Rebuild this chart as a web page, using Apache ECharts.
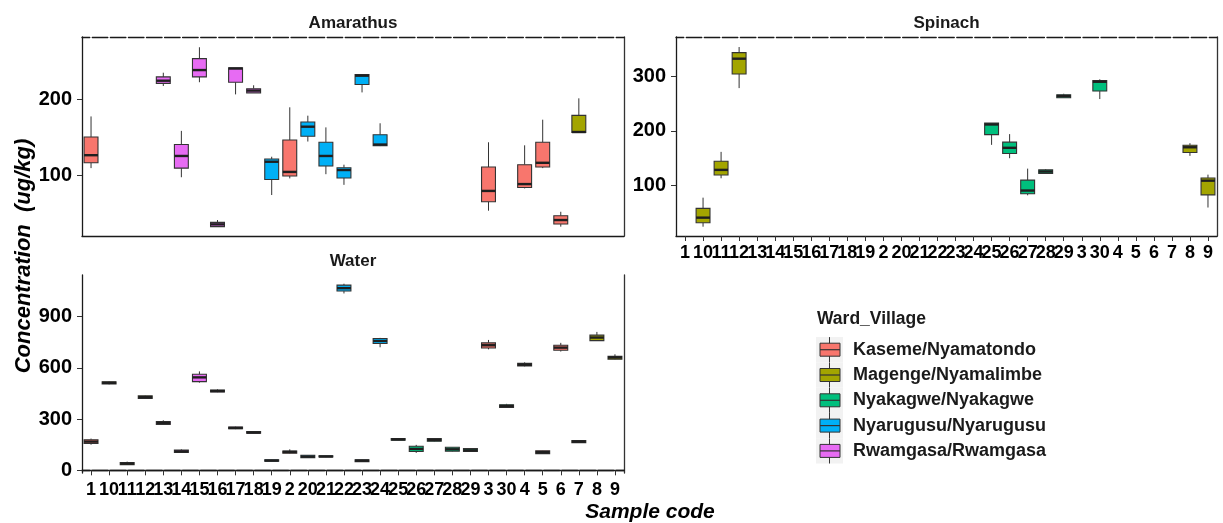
<!DOCTYPE html>
<html>
<head>
<meta charset="utf-8">
<script src="https://cdn.jsdelivr.net/npm/echarts@6/dist/echarts.min.js"></script>
<style>
  html, body { margin: 0; padding: 0; background: #fff; }
  #main { width: 1223px; height: 523px; }
</style>
</head>
<body>
<div id="main"></div>
<script>
// sample codes, sorted as text like the original factor levels
const sampleCodes = ['1','10','11','12','13','14','15','16','17','18','19','2','20','21','22',
  '23','24','25','26','27','28','29','3','30','4','5','6','7','8','9'];

const villages = ['Kaseme/Nyamatondo', 'Magenge/Nyamalimbe', 'Nyakagwe/Nyakagwe',
  'Nyarugusu/Nyarugusu', 'Rwamgasa/Rwamgasa'];
const villageSamples = [
  ['1','2','3','4','5','6'],
  ['7','8','9','10','11','12'],
  ['25','26','27','28','29','30'],
  ['19','20','21','22','23','24'],
  ['13','14','15','16','17','18']
];
const villageColors = ['#F8766D', '#A3A500', '#00BF7D', '#00B0F6', '#E76BF3'];

// [code, min, q1, median, q3, max]  (ug/kg)
const amarathus = [
  ['1',110,117,127,151,178], ['13',218,221.5,225,230,235.5], ['14',98,110,126,141,159],
  ['15',223,230,239,254,269], ['16',33,33,36,38.6,41.7], ['17',207,223,241,242,242],
  ['18',209,209,212,214.5,219], ['19',74.6,95,118.4,122,125], ['2',96.5,99.6,105,147,190],
  ['20',145,152,164.5,170.6,179], ['21',102,112.7,126,144,163.6], ['22',88,97,107.5,110.5,114.5],
  ['23',209.6,220,231.6,233,233], ['24',139,139.5,141,154,169], ['3',54,65.8,80,111.4,144],
  ['4',83.3,84.6,89,114.5,140], ['5',110,111.4,117,144,173.7], ['6',33,36.4,41.7,47.4,52.6],
  ['7',157,157,157.5,179.4,201.8]
];
const spinach = [
  ['10',25,32.3,41.5,58.5,78], ['11',113.4,119.5,128.7,144.5,161.6], ['12',278,303.7,331.7,342.7,353],
  ['25',174.4,193,211.6,214,214], ['26',150,158.5,169,179.3,194], ['27',82.3,85,91,110,131],
  ['28',122,122,125.6,128.7,130], ['29',260.4,260.4,263.4,265.9,267.7], ['30',258,272.6,289.6,292,294],
  ['8',154.3,160.4,170,173.8,177.4], ['9',60,83,109,114,120]
];
const water = [
  ['1',150,157,168,179,186], ['10',503,506,512,518,521], ['11',33,33,39,45,51],
  ['12',419,421,428,436,438], ['13',266,268,278,286,293], ['14',103,104,111,119,123],
  ['15',513,519,544,562,579], ['16',457,458,464,470,474], ['17',241,243,248,254,256],
  ['18',216,217,221,227,228], ['19',52,53,57,62,63], ['2',98,100,108,113,123],
  ['20',73,74,80,88,89], ['21',77,78,81,85,86], ['22',1035,1049,1066,1084,1092],
  ['23',50,51,57,61,62], ['24',720,742,757,771,775], ['25',175,176,181,186,187],
  ['26',102,110,125,141,149], ['27',168,170,178,186,188], ['28',110,112,123,135,136],
  ['29',108,110,117,127,128], ['3',708,716,732,746,763], ['30',366,368,376,384,389],
  ['4',608,611,618,626,632], ['5',96,98,106,115,116], ['6',695,703,718,732,746],
  ['7',161,162,168,174,175], ['8',759,759,777,791,810], ['9',648,650,660,667,679]
];

const amarathusTicks = [100, 200];
const spinachTicks = [100, 200, 300];
const waterTicks = [0, 300, 600, 900];

const panels = [
  { title: 'Amarathus', rows: amarathus, ticks: amarathusTicks, min: 20.7, max: 282.5,
    left: 82, top: 37, width: 542, height: 199, showX: false },
  { title: 'Spinach', rows: spinach, ticks: spinachTicks, min: 8, max: 371.3,
    left: 676, top: 37, width: 541, height: 199, showX: true },
  { title: 'Water', rows: water, ticks: waterTicks, min: -15.6, max: 1143,
    left: 82, top: 275, width: 542, height: 198, showX: true }
];

const FONT = '"Liberation Sans", Arial, sans-serif';
const EDGE = '#1a1a1a';

function renderBox(params, api) {
  const x = api.value(0);
  const lo = api.coord([x, api.value(1)]);
  const q1 = api.coord([x, api.value(2)]);
  const md = api.coord([x, api.value(3)]);
  const q3 = api.coord([x, api.value(4)]);
  const hi = api.coord([x, api.value(5)]);
  const bw = api.size([1, 0])[0] * 0.77;
  const fill = api.visual('color');
  return {
    type: 'group',
    children: [
      { type: 'line', shape: { x1: lo[0], y1: lo[1], x2: q1[0], y2: q1[1] },
        style: { stroke: '#333', lineWidth: 1 } },
      { type: 'line', shape: { x1: q3[0], y1: q3[1], x2: hi[0], y2: hi[1] },
        style: { stroke: '#333', lineWidth: 1 } },
      { type: 'rect', shape: { x: q3[0] - bw / 2, y: q3[1], width: bw, height: Math.max(q1[1] - q3[1], 0.5) },
        style: { fill: fill, stroke: '#333', lineWidth: 1.1 } },
      { type: 'line', shape: { x1: md[0] - bw / 2, y1: md[1], x2: md[0] + bw / 2, y2: md[1] },
        style: { stroke: '#1f1f1f', lineWidth: 2.4 } }
    ]
  };
}

const grids = [], xAxes = [], yAxes = [], series = [], graphics = [];

panels.forEach((p, i) => {
  grids.push({ left: p.left, top: p.top, width: p.width, height: p.height });

  xAxes.push({
    type: 'category', gridIndex: i, data: sampleCodes, position: 'bottom',
    axisLine: { lineStyle: { color: EDGE, width: 1.3 } },
    axisTick: { show: p.showX, alignWithLabel: true, length: 5, lineStyle: { color: '#333' } },
    axisLabel: { show: p.showX, interval: 0, margin: 8, color: '#000', fontWeight: 'bold',
      fontSize: 18, fontFamily: '"Liberation Sans Narrow", "Liberation Sans", Arial, sans-serif' },
    splitLine: { show: false }
  });

  yAxes.push({
    type: 'value', gridIndex: i, min: p.min, max: p.max, position: 'left',
    axisLine: { show: true, lineStyle: { color: EDGE, width: 1.3 } },
    axisTick: { show: true, length: 5, customValues: p.ticks, lineStyle: { color: '#333' } },
    axisLabel: { customValues: p.ticks, margin: 10, color: '#000', fontWeight: 'bold',
      fontSize: 20, fontFamily: FONT },
    splitLine: { show: false }
  });

  villages.forEach((v, k) => {
    const rows = p.rows.filter(r => villageSamples[k].indexOf(r[0]) >= 0)
      .map(r => [sampleCodes.indexOf(r[0]), r[1], r[2], r[3], r[4], r[5]]);
    if (!rows.length) return;
    series.push({
      type: 'custom', name: v, xAxisIndex: i, yAxisIndex: i,
      itemStyle: { color: villageColors[k] },
      encode: { x: 0, y: [1, 2, 3, 4, 5] },
      renderItem: renderBox,
      data: rows
    });
  });

  // panel strip title
  graphics.push({ type: 'text', x: p.left + p.width / 2, y: p.top - 14,
    style: { text: p.title, fill: '#1a1a1a', font: 'bold 17px ' + FONT, align: 'center', verticalAlign: 'middle' } });
});

// panel frame: right edge and the top edge broken at each sample position
panels.forEach((p, i) => {
  const w = p.width / sampleCodes.length;
  xAxes.push({
    type: 'category', gridIndex: i, data: sampleCodes, position: 'top',
    axisLine: { lineStyle: { color: EDGE, width: 1.3, type: [w - 2.5, 2.5], dashOffset: w / 2 - 1.25 } },
    axisTick: { show: false }, axisLabel: { show: false }, splitLine: { show: false }
  });
  yAxes.push({
    type: 'value', gridIndex: i, min: p.min, max: p.max, position: 'right',
    axisLine: { show: true, lineStyle: { color: '#333', width: 1.3 } },
    axisTick: { show: false }, axisLabel: { show: false }, splitLine: { show: false }
  });
});

// axis titles
graphics.push({ type: 'text', x: 24, y: 256, rotation: Math.PI / 2,
  style: { text: 'Concentration  (ug/kg)', fill: '#000', font: 'italic bold 22px ' + FONT,
    align: 'center', verticalAlign: 'middle' } });
graphics.push({ type: 'text', x: 650, y: 512,
  style: { text: 'Sample code', fill: '#000', font: 'italic bold 21px ' + FONT,
    align: 'center', verticalAlign: 'middle' } });

// legend
graphics.push({ type: 'text', x: 817, y: 319,
  style: { text: 'Ward_Village', fill: '#1a1a1a', font: 'bold 17.5px ' + FONT, verticalAlign: 'middle' } });
villages.forEach((v, k) => {
  const cy = 349.7 + k * 25.3;
  graphics.push({ type: 'rect', shape: { x: 816, y: cy - 12.65, width: 27, height: 25.3 },
    style: { fill: '#F2F2F2' } });
  graphics.push({ type: 'line', shape: { x1: 829.5, y1: cy - 12.6, x2: 829.5, y2: cy + 12.6 },
    style: { stroke: '#333', lineWidth: 1 } });
  graphics.push({ type: 'rect', shape: { x: 820, y: cy - 6.5, width: 20, height: 13 },
    style: { fill: villageColors[k], stroke: '#333', lineWidth: 1 } });
  graphics.push({ type: 'line', shape: { x1: 820, y1: cy, x2: 840, y2: cy },
    style: { stroke: '#333', lineWidth: 1.2 } });
  graphics.push({ type: 'text', x: 853, y: cy,
    style: { text: v, fill: '#1a1a1a', font: 'bold 18px ' + FONT, verticalAlign: 'middle' } });
});

const myChart = echarts.init(document.getElementById('main'));
myChart.setOption({
  animation: false,
  backgroundColor: '#fff',
  grid: grids,
  xAxis: xAxes,
  yAxis: yAxes,
  series: series,
  graphic: graphics
});
</script>
</body>
</html>
